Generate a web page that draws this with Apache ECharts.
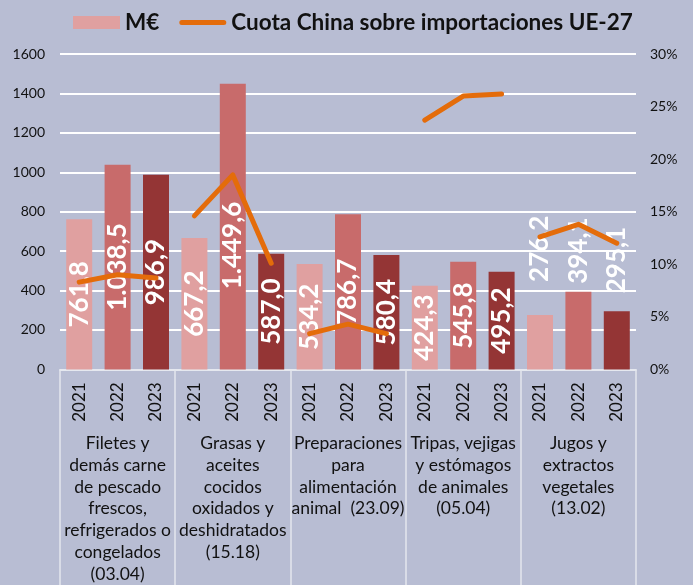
<!DOCTYPE html>
<html>
<head>
<meta charset="utf-8">
<script src="https://cdn.jsdelivr.net/npm/echarts@6/dist/echarts.min.js"></script>
<style>
html,body{margin:0;padding:0;background:#B8BDD3;}
#chart{width:693px;height:585px;}
</style>
</head>
<body>
<div id="chart"></div>
<script>
const categories = [
  'Filetes y\ndemás carne\nde pescado\nfrescos,\nrefrigerados o\ncongelados\n(03.04)',
  'Grasas y\naceites\ncocidos\noxidados y\ndeshidratados\n(15.18)',
  'Preparaciones\npara\nalimentación\nanimal  (23.09)',
  'Tripas, vejigas\ny estómagos\nde animales\n(05.04)',
  'Jugos y\nextractos\nvegetales\n(13.02)'
];
const years = ['2021', '2022', '2023'];
const valuesMEUR = [
  761.8, 1038.5, 986.9,
  667.2, 1449.6, 587.0,
  534.2, 786.7, 580.4,
  424.3, 545.8, 495.2,
  276.2, 394.1, 295.1
];
const shareChina = [
  8.3, 9.0, 8.7,
  14.6, 18.5, 10.1,
  3.4, 4.3, 3.4,
  23.7, 26.0, 26.2,
  12.6, 13.8, 12.0
];
const seriesNames = ['M€', 'Cuota China sobre importaciones UE-27'];

// styles
const yearColors = ['#E0A0A0', '#C86B6B', '#943535'];
const outsideLabelLift = {12: 33, 13: 8, 14: 18};
const insideLabelShift = {4: 19};
const FONT = 'Lato, "Open Sans", sans-serif';
const LINE_ICON = 'path://M0,0 L47,0 L47,0 Z M2.5,4 L44.5,4 A2.5,2.5 0 0 1 44.5,9 L2.5,9 A2.5,2.5 0 0 1 2.5,4 Z M0,13 L47,13 L47,13 Z';

function fmtEs(v) {
  const parts = v.toFixed(1).split('.');
  const int = parts[0].replace(/\B(?=(\d{3})+(?!\d))/g, '.');
  return int + ',' + parts[1];
}

const xKeys = [];
categories.forEach((c, gi) => years.forEach(y => xKeys.push(y + '_' + gi)));

const barData = valuesMEUR.map((v, i) => {
  const item = {value: v, itemStyle: {color: yearColors[i % 3]}};
  if (outsideLabelLift[i] !== undefined) {
    item.label = {position: 'top', distance: outsideLabelLift[i], align: 'left', verticalAlign: 'middle'};
  }
  if (insideLabelShift[i] !== undefined) {
    // label is rotated 90°, so a shift along its own x-axis moves it down the bar
    item.label = {offset: [-insideLabelShift[i], 0]};
  }
  return item;
});

const lineSeries = categories.map((c, gi) => ({
  name: seriesNames[1],
  type: 'line',
  yAxisIndex: 1,
  xAxisIndex: 0,
  symbol: 'none',
  showSymbol: false,
  connectNulls: false,
  lineStyle: {color: '#E46C0A', width: 5, cap: 'round', join: 'round'},
  itemStyle: {color: '#E46C0A'},
  z: 5,
  data: shareChina.map((v, i) => Math.floor(i / 3) === gi ? v : null)
}));

const chart = echarts.init(document.getElementById('chart'), null, {renderer: 'canvas'});
chart.setOption({
  animation: false,
  backgroundColor: '#B8BDD3',
  textStyle: {fontFamily: FONT},
  legend: {
    left: 73,
    top: 11,
    padding: 0,
    itemWidth: 47,
    itemHeight: 13,
    itemGap: 20,
    textStyle: {fontSize: 22.5, fontWeight: 'bold', color: '#111', fontFamily: FONT},
    data: [
      {name: seriesNames[0], icon: 'rect'},
      {name: seriesNames[1], icon: LINE_ICON, itemStyle: {color: '#E46C0A', borderWidth: 0}}
    ]
  },
  grid: {left: 60, right: 57, top: 54, bottom: 214, containLabel: false},
  xAxis: [
    {
      type: 'category',
      data: xKeys,
      position: 'bottom',
      axisLine: {show: true, lineStyle: {color: '#E4E6EE', width: 1.5}},
      axisTick: {show: false},
      axisLabel: {
        interval: 0, rotate: 90, margin: 13, fontSize: 17, color: '#111', fontFamily: FONT,
        formatter: v => v.split('_')[0]
      },
      splitLine: {show: false}
    },
    {
      type: 'category',
      data: categories,
      position: 'bottom',
      axisLine: {show: true, lineStyle: {color: '#E4E6EE', width: 1.5}},
      axisTick: {show: true, length: 230, lineStyle: {color: '#E4E6EE', width: 1.5}},
      axisLabel: {interval: 0, margin: 63, fontSize: 17.5, lineHeight: 21.8, color: '#111', fontFamily: FONT},
      splitLine: {show: false}
    }
  ],
  yAxis: [
    {
      type: 'value', min: 0, max: 1600, interval: 200,
      axisLine: {show: false}, axisTick: {show: false},
      axisLabel: {margin: 15, fontSize: 14, color: '#111', fontFamily: FONT, formatter: v => String(v)},
      splitLine: {show: true, lineStyle: {color: '#FFFFFF', width: 2}}
    },
    {
      type: 'value', min: 0, max: 30, interval: 5, position: 'right',
      axisLine: {show: false}, axisTick: {show: false},
      axisLabel: {margin: 14, fontSize: 14, color: '#111', fontFamily: FONT, formatter: '{value}%'},
      splitLine: {show: false}
    }
  ],
  series: [
    {
      name: seriesNames[0],
      type: 'bar',
      xAxisIndex: 0,
      yAxisIndex: 0,
      barWidth: 26,
      itemStyle: {color: yearColors[0]},
      z: 2,
      label: {
        show: true,
        position: 'inside',
        rotate: 90,
        color: '#FFFFFF',
        fontSize: 26,
        fontWeight: 'bold',
        fontFamily: FONT,
        formatter: p => fmtEs(p.value)
      },
      data: barData
    }
  ].concat(lineSeries)
});
</script>
</body>
</html>
